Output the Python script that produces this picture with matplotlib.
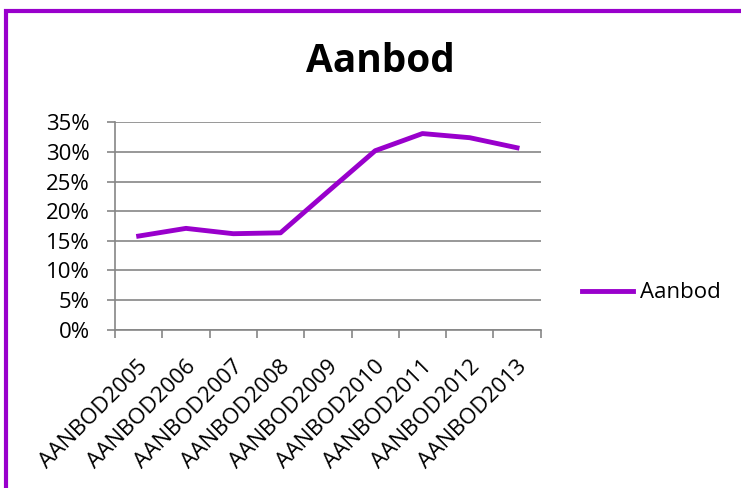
import matplotlib.pyplot as plt
from matplotlib.patches import Rectangle
from matplotlib.ticker import PercentFormatter
from matplotlib.transforms import ScaledTranslation

plt.rcParams['font.family'] = ['Open Sans', 'DejaVu Sans']

categories = ["AANBOD2005", "AANBOD2006", "AANBOD2007", "AANBOD2008", "AANBOD2009",
              "AANBOD2010", "AANBOD2011", "AANBOD2012", "AANBOD2013"]
aanbod = [15.8, 17.1, 16.2, 16.35, 23.3, 30.2, 33.1, 32.4, 30.7]

purple = "#9900CC"
grey = "#868686"

fig = plt.figure(figsize=(7.41, 4.88), dpi=100)

# chart frame (only left and top edges visible in the crop)
fig.patches.append(Rectangle((6 / 741, -0.1), 1.2, 1 - 11.5 / 488 + 0.1,
                             transform=fig.transFigure, fill=False,
                             edgecolor=purple, linewidth=3))

ax = fig.add_axes([115 / 741, 1 - 329.7 / 488, 425.7 / 741, 207.4 / 488])
x = range(len(categories))
ax.plot(x, aanbod, color=purple, linewidth=3.5, label="Aanbod")

ax.set_xlim(-0.5, len(categories) - 0.5)
ax.set_ylim(0, 35)
ax.set_yticks(range(0, 36, 5))
ax.yaxis.set_major_formatter(PercentFormatter(decimals=0))
ax.grid(axis="y", color=grey, linewidth=1.2)
ax.set_axisbelow(True)

ax.set_xticks([i - 0.5 for i in range(len(categories) + 1)])
ax.set_xticklabels([])
ax.set_xticks(list(x), minor=True)
ax.set_xticklabels(categories, minor=True, rotation=45, ha="right", va="top",
                   rotation_mode="anchor", fontsize=16)
ax.tick_params(axis="x", which="minor", length=0, pad=19)
ax.tick_params(axis="x", which="major", length=6, color=grey, width=1.2)
ax.tick_params(axis="y", length=6, color=grey, width=1.2, labelsize=16, pad=12)
shift = ScaledTranslation(-1 / 100, 0, fig.dpi_scale_trans)
for lab in ax.get_xticklabels(minor=True):
    lab.set_transform(lab.get_transform() + shift)

for s in ["top", "right"]:
    ax.spines[s].set_visible(False)
for s in ["left", "bottom"]:
    ax.spines[s].set_color(grey)
    ax.spines[s].set_linewidth(1.2)

fig.text(380 / 741, 1 - 62 / 488, "Aanbod", ha="center", va="center",
         fontsize=28, fontweight="bold")

ax.legend(loc="center left", bbox_to_anchor=(1.097, 0.177), frameon=False,
          fontsize=16, handlelength=2.3, handletextpad=0.32,
          borderpad=0, borderaxespad=0)

fig.savefig("out.png", dpi=100)
